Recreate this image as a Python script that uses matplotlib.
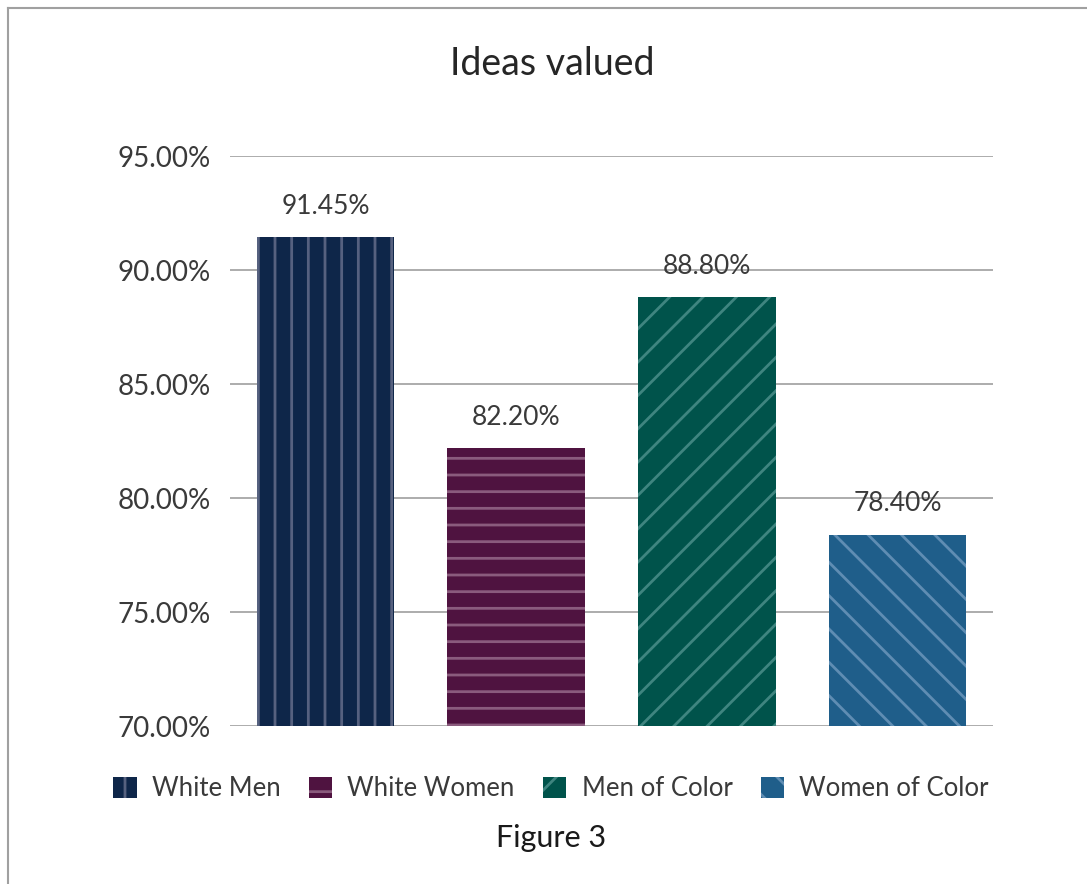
import matplotlib
matplotlib.use("Agg")
import matplotlib.pyplot as plt
from matplotlib.patches import Patch
from matplotlib.lines import Line2D
import numpy as np

groups = ["White Men", "White Women", "Men of Color", "Women of Color"]
values = [91.45, 82.20, 88.80, 78.40]
yticks = [70, 75, 80, 85, 90, 95]

fills = ["#0e2649", "#4f1340", "#00534b", "#1f5e8a"]
hatch_cols = ["#56617f", "#8a5b7d", "#3f8580", "#5f8db3"]
hatches = ["|", "-", "/", "\\"]

plt.rcParams["font.family"] = ["Lato", "DejaVu Sans"]
plt.rcParams["hatch.linewidth"] = 2.0
TXT = "#3a3a3a"

fig = plt.figure(figsize=(10.87, 8.84), dpi=100)
ax = fig.add_axes([0.2116, 0.1787, 0.7019, 0.6448])

x = np.arange(len(groups))
bars = ax.bar(x, values, width=0.72, color=fills, edgecolor=hatch_cols,
              linewidth=0, zorder=3)
for b, h in zip(bars, hatches):
    b.set_hatch(h)

for xi, v in zip(x, values):
    ax.text(xi, v + 0.8, f"{v:.2f}%", ha="center", va="bottom",
            fontsize=19, color=TXT)

ax.set_xlim(-0.5, len(groups) - 0.5)
ax.set_ylim(70, 95)
ax.set_yticks(yticks)
ax.set_yticklabels([f"{t:.2f}%" for t in yticks], fontsize=20, color=TXT)
ax.set_xticks([])
ax.tick_params(axis="y", length=0, pad=14)
ax.grid(axis="y", color="#a6a6a6", linewidth=1.3, zorder=0)
for s in ax.spines.values():
    s.set_visible(False)

fig.text(0.508, 0.928, "Ideas valued", ha="center", va="center",
         fontsize=27, color="#262626")

handles = [Patch(facecolor=f, edgecolor=hc, linewidth=0, hatch=h)
           for f, hc, h in zip(fills, hatch_cols, hatches)]
fig.legend(handles, groups, loc="center", bbox_to_anchor=(0.507, 0.108),
           ncol=4, frameon=False, handlelength=0.9,
           handleheight=0.9, handletextpad=0.6, columnspacing=1.1,
           labelcolor=TXT, prop={"size": 18.5})

fig.text(0.507, 0.052, "Figure 3", ha="center", va="center",
         fontsize=22, color="#1a1a1a")

# thin grey frame on top and left edges
fig.add_artist(Line2D([0.0074, 1.0], [0.991, 0.991], transform=fig.transFigure,
                      color="#a0a0a0", linewidth=1.5))
fig.add_artist(Line2D([0.0074, 0.0074], [0.0, 0.991], transform=fig.transFigure,
                      color="#a0a0a0", linewidth=1.5))

fig.savefig("out.png", dpi=100)
